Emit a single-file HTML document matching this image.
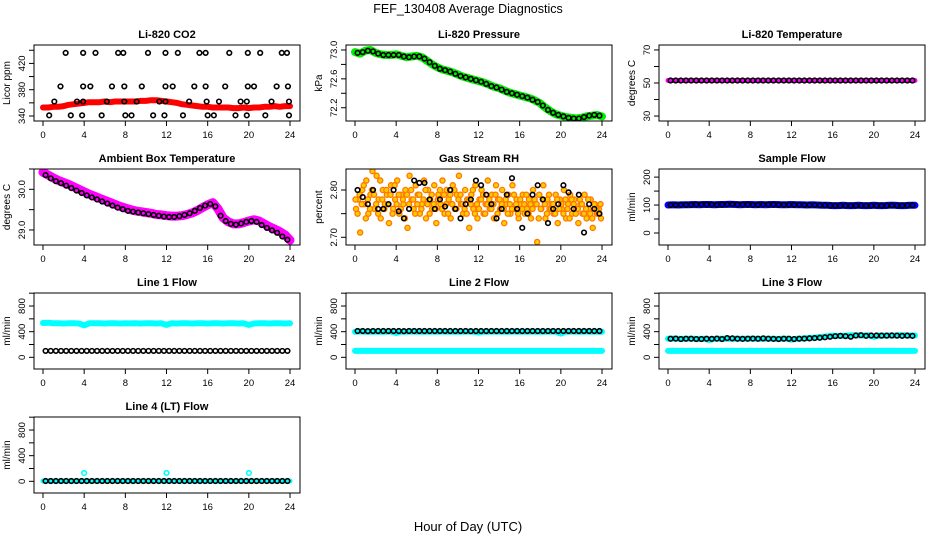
<!DOCTYPE html>
<html><head><meta charset="utf-8"><style>
html,body{margin:0;padding:0;background:#fff;}
svg{display:block;font-family:"Liberation Sans",Arial,sans-serif;}
</style></head><body>
<svg id="chart" width="936" height="540" viewBox="0 0 936 540">
<text x="468" y="13" text-anchor="middle" font-size="12.5">FEF_130408  Average Diagnostics</text>
<text x="468" y="531" text-anchor="middle" font-size="13">Hour of Day (UTC)</text>
</svg>
<script>
const xTicks=[0,4,8,12,16,20,24];
const co2Band=[353,353,354,354,355,357,358,359,360,361,361,361,362,361,362,362,362,362,362,363,363,364,364,363,362,361,360,358,357,356,355,354,354,353,353,353,353,352,352,353,352,353,353,354,354,355,354,355,355];
const co2PtT=[2.2,3.9,5.1,7.3,7.8,10.2,11.9,13.1,15.2,15.8,18.1,19.9,21.1,23.2,23.7,1.7,3.9,4.6,6.7,7.9,9.6,11.9,12.6,14.7,15.8,17.7,19.9,20.5,22.7,23.8,1.1,3.3,3.9,6.2,7.9,9.1,11.3,11.9,14.2,15.9,17.1,19.2,19.8,22.2,23.9,0.6,2.7,3.8,5.7,8,8.6,10.7,11.8,13.6,16,16.6,18.7,19.8,21.6,23.9];
const co2PtV=[436,436,436,436,436,436,436,436,436,436,436,436,436,436,436,385,385,385,385,385,385,385,385,385,385,385,385,385,385,385,362,362,362,362,362,362,362,362,362,362,362,362,362,362,362,341,341,341,341,341,341,341,341,341,341,341,341,341,341,341];
const presBand=[72.97,72.95,72.99,73.0,72.96,72.94,72.93,72.93,72.94,72.92,72.90,72.91,72.92,72.90,72.85,72.80,72.76,72.73,72.71,72.69,72.66,72.63,72.61,72.59,72.57,72.55,72.52,72.49,72.47,72.44,72.41,72.39,72.37,72.35,72.33,72.30,72.26,72.20,72.15,72.11,72.09,72.07,72.06,72.05,72.06,72.08,72.09,72.10,72.08];
const presPts=[72.96,72.97,72.99,72.98,72.95,72.93,72.93,72.93,72.93,72.91,72.9,72.91,72.91,72.88,72.83,72.78,72.74,72.72,72.7,72.67,72.64,72.62,72.6,72.58,72.56,72.53,72.5,72.48,72.45,72.42,72.4,72.38,72.36,72.34,72.31,72.28,72.23,72.17,72.13,72.1,72.08,72.06,72.05,72.05,72.07,72.09,72.1,72.09];
const liTempBand=[51.5,51.5,51.5,51.5,51.5,51.5,51.5,51.5,51.5,51.5,51.5,51.5,51.5,51.5,51.5,51.5,51.5,51.5,51.5,51.5,51.5,51.5,51.5,51.5,51.5,51.5,51.5,51.5,51.5,51.5,51.5,51.5,51.5,51.5,51.5,51.5,51.5,51.5,51.5,51.5,51.5,51.5,51.5,51.5,51.5,51.5,51.5,51.5,51.5];
const liTempPts=[51.5,51.5,51.5,51.5,51.5,51.5,51.5,51.5,51.5,51.5,51.5,51.5,51.5,51.5,51.5,51.5,51.5,51.5,51.5,51.5,51.5,51.5,51.5,51.5,51.5,51.5,51.5,51.5,51.5,51.5,51.5,51.5,51.5,51.5,51.5,51.5,51.5,51.5,51.5,51.5,51.5,51.5,51.5,51.5,51.5,51.5,51.5,51.5];
const ambBand=[30.42,30.35,30.28,30.22,30.17,30.12,30.06,30.0,29.94,29.88,29.83,29.78,29.73,29.68,29.63,29.58,29.54,29.5,29.47,29.45,29.43,29.41,29.38,29.37,29.35,29.34,29.34,29.35,29.38,29.42,29.48,29.55,29.62,29.67,29.52,29.3,29.2,29.15,29.15,29.18,29.22,29.25,29.22,29.15,29.08,29.02,28.96,28.88,28.75];
const ambPts=[30.35,30.27,30.2,30.15,30.09,30.03,29.97,29.91,29.85,29.8,29.75,29.7,29.65,29.6,29.55,29.51,29.47,29.45,29.43,29.41,29.39,29.37,29.35,29.33,29.32,29.32,29.34,29.37,29.41,29.47,29.54,29.6,29.64,29.58,29.35,29.22,29.15,29.13,29.16,29.2,29.22,29.2,29.12,29.05,28.99,28.93,28.84,28.76];
const rhCloud=[2.76,2.78,2.71,2.80,2.77,2.82,2.75,2.79,2.84,2.76,2.83,2.78,2.74,2.80,2.77,2.79,2.73,2.81,2.76,2.78,2.82,2.75,2.79,2.77,2.80,2.72,2.83,2.78,2.76,2.81,2.79,2.75,2.77,2.82,2.74,2.80,2.78,2.76,2.81,2.73,2.79,2.77,2.82,2.75,2.80,2.78,2.74,2.81,2.76,2.79,2.83,2.77,2.75,2.80,2.78,2.72,2.79,2.76,2.81,2.74,2.78,2.80,2.75,2.77,2.82,2.76,2.79,2.74,2.81,2.78,2.76,2.80,2.73,2.77,2.79,2.75,2.81,2.76,2.78,2.74,2.77,2.79,2.75,2.76,2.78,2.74,2.80,2.77,2.69,2.79,2.76,2.81,2.74,2.78,2.76,2.77,2.75,2.79,2.73,2.78,2.76,2.80,2.74,2.77,2.79,2.75,2.78,2.76,2.73,2.77,2.75,2.79,2.74,2.76,2.78,2.72,2.77,2.75,2.76,2.74];
const rhCloud2=[2.78,2.75,2.79,2.77,2.81,2.74,2.78,2.76,2.80,2.79,2.77,2.75,2.82,2.78,2.76,2.80,2.77,2.79,2.75,2.81,2.77,2.79,2.76,2.78,2.74,2.79,2.77,2.80,2.78,2.75,2.77,2.79,2.76,2.78,2.80,2.77,2.75,2.79,2.77,2.76,2.78,2.80,2.76,2.79,2.77,2.75,2.79,2.77,2.80,2.76,2.78,2.79,2.77,2.76,2.75,2.78,2.77,2.80,2.75,2.77,2.76,2.78,2.79,2.75,2.77,2.78,2.76,2.77,2.79,2.75,2.78,2.77,2.76,2.78,2.75,2.77,2.76,2.79,2.77,2.75,2.78,2.76,2.77,2.79,2.75,2.77,2.76,2.78,2.77,2.74,2.76,2.78,2.77,2.75,2.79,2.76,2.77,2.75,2.78,2.76,2.77,2.75,2.78,2.76,2.74,2.78,2.77,2.75,2.76,2.78,2.77,2.75,2.76,2.78,2.75,2.74,2.77,2.76,2.75,2.77];
const rhPts=[2.80,2.785,2.77,2.80,2.76,2.76,2.77,2.80,2.755,2.74,2.76,2.82,2.815,2.815,2.78,2.76,2.78,2.765,2.80,2.76,2.74,2.77,2.78,2.82,2.81,2.79,2.77,2.74,2.76,2.79,2.825,2.76,2.72,2.75,2.79,2.81,2.78,2.73,2.76,2.77,2.81,2.795,2.76,2.79,2.71,2.77,2.76,2.75];
const sampBand=[100,101,100,101,101,102,101,102,102,101,102,102,103,102,101,102,102,101,102,101,102,102,101,101,102,101,101,100,101,100,99,99,98,98,99,98,98,99,98,98,99,98,98,99,99,98,98,99,99];
const sampPts=[100,100,101,101,101,102,102,102,102,101,102,102,103,102,102,102,101,101,102,102,102,101,101,101,101,101,100,100,100,99,99,98,98,98,98,98,98,98,98,98,98,98,98,99,98,98,99,99];
const l1Cyan=[535,540,530,532,528,530,530,528,500,530,532,530,528,530,530,528,530,529,530,528,530,530,528,530,505,530,528,530,530,528,530,530,528,530,530,528,530,530,528,530,505,528,530,530,528,530,530,528,530];
const l1Pts=[100,100,100,100,100,100,100,100,100,100,100,100,100,100,100,100,100,100,100,100,100,100,100,100,100,100,100,100,100,100,100,100,100,100,100,100,100,100,100,100,100,100,100,100,100,100,100,100];
const l2CyanLow=[100,100,100,100,100,100,100,100,100,100,100,100,100,100,100,100,100,100,100,100,100,100,100,100,100,100,100,100,100,100,100,100,100,100,100,100,100,100,100,100,100,100,100,100,100,100,100,100,100];
const l2CyanHigh=[400,405,400,400,398,400,400,402,380,400,400,402,400,400,400,400,400,402,400,400,400,400,402,400,385,400,400,402,400,400,400,402,400,400,402,400,400,400,402,400,370,400,402,400,400,402,400,400,400];
const l2Pts=[410,410,408,410,410,410,410,410,410,408,410,410,410,410,410,410,410,410,410,410,410,410,408,410,410,410,410,410,410,410,410,410,410,410,410,410,410,410,410,410,410,410,410,410,410,410,410,410];
const l3CyanLow=[100,100,100,100,100,100,100,100,100,100,100,100,100,100,100,100,100,100,100,100,100,100,100,100,100,100,100,100,100,100,100,100,100,100,100,100,100,100,100,100,100,100,100,100,100,100,100,100,100];
const l3CyanHigh=[290,292,290,288,290,290,288,290,270,288,290,292,288,290,290,290,292,290,288,290,290,288,290,292,275,290,292,300,305,312,320,330,335,332,335,340,345,342,340,345,320,340,338,342,340,345,345,340,340];
const l3Pts=[290,292,285,290,290,285,285,290,288,292,285,300,295,290,288,290,292,290,295,290,288,285,290,290,285,290,292,295,300,305,312,320,330,335,330,320,340,345,335,340,340,338,338,340,338,335,338,335];
const l4Cyan=[5,5,5,5,5,5,5,5,5,5,5,5,5,5,5,5,5,5,5,5,5,5,5,5,5,5,5,5,5,5,5,5,5,5,5,5,5,5,5,5,5,5,5,5,5,5,5,5,5];
const l4Pts=[5,5,5,5,5,5,5,5,5,5,5,5,5,5,5,5,5,5,5,5,5,5,5,5,5,5,5,5,5,5,5,5,5,5,5,5,5,5,5,5,5,5,5,5,5,5,5,5];
const l4SpikeT=[4,12,20];
const l4SpikeV=[130,130,130];

const NS="http://www.w3.org/2000/svg";
const svg=document.getElementById('chart');
const colX=[34,346,659], rowY=[45,169,293,417], W=266, H=76;
const XMIN=-0.875, XMAX=24.97;
const bandT=co2Band.map((_,i)=>i*0.5);
const ptT=co2Band.slice(0,48).map((_,i)=>0.25+i*0.5);
const cloudT=rhCloud.map((_,i)=>0.1+i*0.2);
const cloudT2=rhCloud2.map((_,i)=>0.05+i*0.2);
function mk(tag,attrs,parent){const e=document.createElementNS(NS,tag);for(const k in attrs)e.setAttribute(k,attrs[k]);(parent||svg).appendChild(e);return e;}

const panels=[
 {key:'co2',title:'Li-820 CO2',ylab:'Licor ppm',c:0,r:0,dom:[332.4,448],ticks:[340,360,380,400,420,440],labels:[340,380,420],fmt:0,
  series:[{type:'band',ys:co2Band,color:'#ff0000',w:6},{type:'pts',ts:co2PtT,ys:co2PtV,color:'#000'}]},
 {key:'pressure',title:'Li-820 Pressure',ylab:'kPa',c:1,r:0,dom:[72.016,73.069],ticks:[72.2,72.4,72.6,72.8,73.0],labels:[72.2,72.6,73.0],fmt:1,
  series:[{type:'band',ys:presBand,color:'#00ee00',w:8},{type:'pts',ts:ptT,ys:presPts,color:'#000'}]},
 {key:'li820-temp',title:'Li-820 Temperature',ylab:'degrees C',c:2,r:0,dom:[27,73],ticks:[30,40,50,60,70],labels:[30,50,70],fmt:0,
  series:[{type:'band',ys:liTempBand,color:'#ff00ff',w:5},{type:'pts',ts:ptT,ys:liTempPts,color:'#000'}]},
 {key:'ambient-temp',title:'Ambient Box Temperature',ylab:'degrees C',c:0,r:1,dom:[28.63,30.5],ticks:[29,29.5,30,30.5],labels:[29,30],fmt:1,
  series:[{type:'band',ys:ambBand,color:'#ff00ff',w:9},{type:'pts',ts:ptT,ys:ambPts,color:'#000'}]},
 {key:'gas-rh',title:'Gas Stream RH',ylab:'percent',c:1,r:1,dom:[2.6837,2.8444],ticks:[2.70,2.75,2.80],labels:[2.70,2.80],fmt:2,
  series:[{type:'cloud',ts:cloudT,ys:rhCloud},{type:'cloud',ts:cloudT2,ys:rhCloud2},{type:'pts',ts:ptT,ys:rhPts,color:'#000'}]},
 {key:'sample-flow',title:'Sample Flow',ylab:'ml/min',c:2,r:1,dom:[-43,229],ticks:[0,50,100,150,200],labels:[0,100,200],fmt:0,
  series:[{type:'band',ys:sampBand,color:'#0000ff',w:7},{type:'pts',ts:ptT,ys:sampPts,color:'#000'}]},
 {key:'line1-flow',title:'Line 1 Flow',ylab:'ml/min',c:0,r:2,dom:[-182,1003],ticks:[0,200,400,600,800,1000],labels:[0,400,800],fmt:0,
  series:[{type:'band',ys:l1Cyan,color:'#00ffff',w:6},{type:'pts',ts:ptT,ys:l1Pts,color:'#000'}]},
 {key:'line2-flow',title:'Line 2 Flow',ylab:'ml/min',c:1,r:2,dom:[-182,1003],ticks:[0,200,400,600,800,1000],labels:[0,400,800],fmt:0,
  series:[{type:'band',ys:l2CyanLow,color:'#00ffff',w:6},{type:'band',ys:l2CyanHigh,color:'#00ffff',w:6},{type:'pts',ts:ptT,ys:l2Pts,color:'#000'}]},
 {key:'line3-flow',title:'Line 3 Flow',ylab:'ml/min',c:2,r:2,dom:[-182,1003],ticks:[0,200,400,600,800,1000],labels:[0,400,800],fmt:0,
  series:[{type:'band',ys:l3CyanLow,color:'#00ffff',w:6},{type:'band',ys:l3CyanHigh,color:'#00ffff',w:6},{type:'pts',ts:ptT,ys:l3Pts,color:'#000'}]},
 {key:'line4-flow',title:'Line 4 (LT) Flow',ylab:'ml/min',c:0,r:3,dom:[-182,1003],ticks:[0,200,400,600,800,1000],labels:[0,400,800],fmt:0,
  series:[{type:'band',ys:l4Cyan,color:'#00ffff',w:5},{type:'pts',ts:l4SpikeT,ys:l4SpikeV,color:'#00ffff'},{type:'pts',ts:ptT,ys:l4Pts,color:'#000'}]}
];

panels.forEach(p=>{
  const x0=colX[p.c], y0=rowY[p.r];
  const sx=t=>x0+(t-XMIN)/(XMAX-XMIN)*W;
  const sy=v=>y0+H-(v-p.dom[0])/(p.dom[1]-p.dom[0])*H;
  const g=mk('g',{});
  
  
  const clip=mk('clipPath',{id:'clip-'+p.key},g);
  mk('rect',{x:x0,y:y0,width:W,height:H},clip);
  const dg=mk('g',{'clip-path':'url(#clip-'+p.key+')'},g);
  
  
  p.series.forEach((s,si)=>{
    if(s.type==='band'){
      const pts=s.ys.map((v,i)=>sx(bandT[i]).toFixed(1)+','+sy(v).toFixed(1)).join(' ');
      const pl=mk('polyline',{points:pts,fill:'none',stroke:s.color,'stroke-width':s.w,'stroke-linejoin':'round','stroke-linecap':'round'},dg);
      
      
    } else if(s.type==='cloud'){
      s.ys.forEach((v,i)=>{
        const c=mk('circle',{cx:sx(s.ts[i]),cy:sy(v),r:2.6,fill:'#ffcc00',stroke:'#ff7700','stroke-width':1.3},dg);
        
        
      });
    } else {
      s.ys.forEach((v,i)=>{
        const c=mk('circle',{cx:sx(s.ts[i]),cy:sy(v),r:2.3,fill:'none',stroke:s.color,'stroke-width':1.6},dg);
        
        
      });
    }
  });
  const box=mk('rect',{x:x0,y:y0,width:W,height:H,fill:'none',stroke:'#000','stroke-width':1},g);
  
  
  const tt=mk('text',{x:x0+W/2,y:y0-7,'text-anchor':'middle','font-size':11,'font-weight':'bold'},g);
  tt.textContent=p.title;
  
  
  const yl=mk('text',{x:x0-24,y:y0+H/2,'text-anchor':'middle','font-size':10,transform:'rotate(-90 '+(x0-24)+' '+(y0+H/2)+')'},g);
  yl.textContent=p.ylab;
  
  
  mk('line',{x1:sx(0),x2:sx(24),y1:y0+H,y2:y0+H,stroke:'#000'},g);
  xTicks.forEach(t=>{
    mk('line',{x1:sx(t),x2:sx(t),y1:y0+H,y2:y0+H+5,stroke:'#000'},g);
    const lb=mk('text',{x:sx(t),y:y0+H+17,'text-anchor':'middle','font-size':9.5},g);
    lb.textContent=t;
    
    
  });
  const tv=p.ticks.filter(v=>v>=p.dom[0]&&v<=p.dom[1]);
  mk('line',{x1:x0,x2:x0,y1:sy(tv[0]),y2:sy(tv[tv.length-1]),stroke:'#000'},g);
  tv.forEach(v=>{
    mk('line',{x1:x0-5,x2:x0,y1:sy(v),y2:sy(v),stroke:'#000'},g);
  });
  p.labels.forEach(v=>{
    const lx=x0-9, ly=sy(v);
    const lb=mk('text',{x:lx,y:ly,'text-anchor':'middle','font-size':9.5,transform:'rotate(-90 '+lx+' '+ly+')'},g);
    lb.textContent=v.toFixed(p.fmt);
    
    
  });
});
</script>
</body></html>
